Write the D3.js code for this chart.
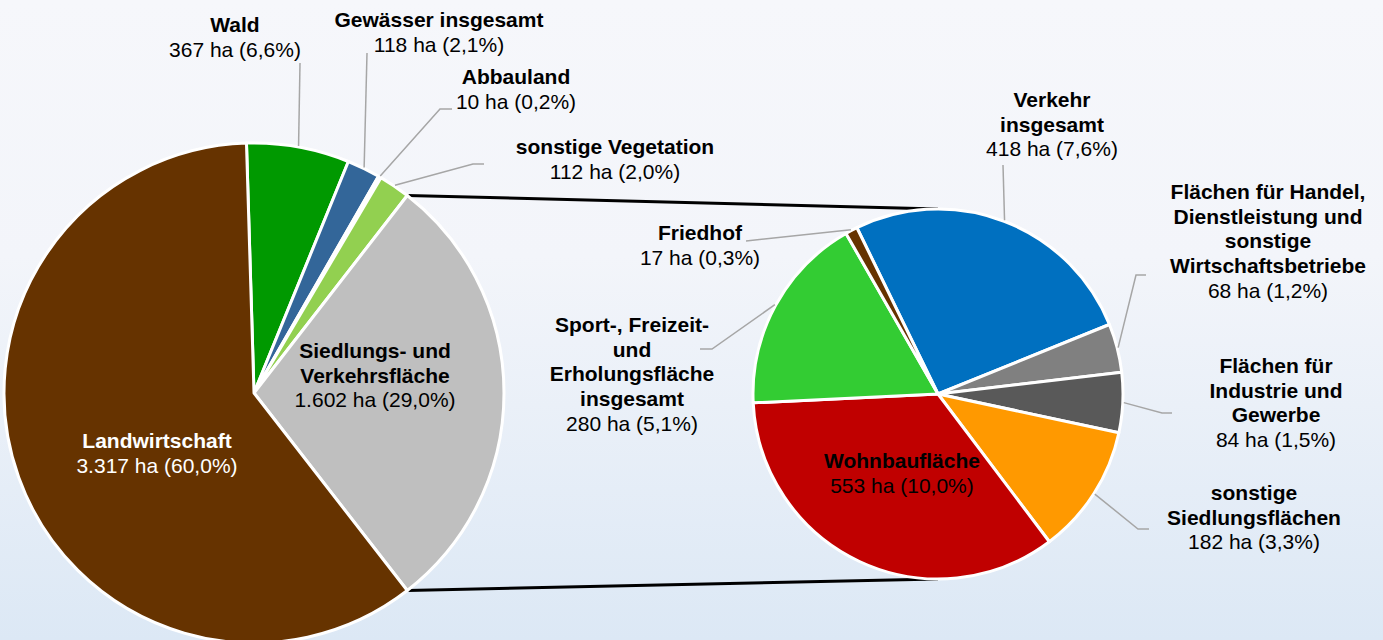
<!DOCTYPE html>
<html>
<head>
<meta charset="utf-8">
<script src="https://cdn.jsdelivr.net/npm/d3@7"></script>
<style>
  html, body { margin: 0; padding: 0; overflow: hidden; }
  svg { display: block; font-family: "Liberation Sans", Arial, sans-serif; }
</style>
</head>
<body>
<svg id="chart"></svg>
<script>
const width = 1383;
const height = 640;

// Hauptkreis: Bodenflächen (ha)
const mainNames = ['Wald', 'Gewässer insgesamt', 'Abbauland', 'sonstige Vegetation', 'Siedlungs- und Verkehrsfläche', 'Landwirtschaft'];
const mainValues = [367, 118, 10, 112, 1602, 3317];
const mainPct = ['6,6%', '2,1%', '0,2%', '2,0%', '29,0%', '60,0%'];
const mainColors = ['#009900', '#336699', '#d9d9d9', '#92d050', '#bfbfbf', '#663300'];

// Nebenkreis: Aufteilung Siedlungs- und Verkehrsfläche (ha)
const subNames = ['Verkehr insgesamt', 'Flächen für Handel, Dienstleistung und sonstige Wirtschaftsbetriebe', 'Flächen für Industrie und Gewerbe', 'sonstige Siedlungsflächen', 'Wohnbaufläche', 'Sport-, Freizeit- und Erholungsfläche insgesamt', 'Friedhof'];
const subValues = [418, 68, 84, 182, 553, 280, 17];
const subPct = ['7,6%', '1,2%', '1,5%', '3,3%', '10,0%', '5,1%', '0,3%'];
const subColors = ['#0070c0', '#808080', '#595959', '#ff9900', '#c00000', '#33cc33', '#663300'];

const fmt = v => d3.format(',')(v).replace(/,/g, '.');

// Beschriftungs-Layout: Zeilenumbrüche, Position, Knickpunkte der Führungslinie
const mainLayout = [
  { lines: ['Wald'], x: 235, y: 32, leader: [[300, 63]] },
  { lines: ['Gewässer insgesamt'], x: 439, y: 27, leader: [[367, 53]] },
  { lines: ['Abbauland'], x: 516, y: 84, leader: [[452, 109], [440, 109]] },
  { lines: ['sonstige Vegetation'], x: 615, y: 154, leader: [[484, 164], [473, 164]] },
  { lines: ['Siedlungs- und', 'Verkehrsfläche'], x: 375, y: 358, leader: null },
  { lines: ['Landwirtschaft'], x: 157, y: 448, leader: null, color: '#ffffff' }
];
const subLayout = [
  { lines: ['Verkehr', 'insgesamt'], x: 1052, y: 107, leader: [[1003, 165]] },
  { lines: ['Flächen für Handel,', 'Dienstleistung und', 'sonstige', 'Wirtschaftsbetriebe'], x: 1268, y: 199, leader: [[1146, 275], [1136, 275]] },
  { lines: ['Flächen für', 'Industrie und', 'Gewerbe'], x: 1276, y: 373, leader: [[1172, 413], [1162, 413]] },
  { lines: ['sonstige', 'Siedlungsflächen'], x: 1254, y: 500, leader: [[1149, 529], [1138, 529]] },
  { lines: ['Wohnbaufläche'], x: 902, y: 468, leader: null },
  { lines: ['Sport-, Freizeit-', 'und', 'Erholungsfläche', 'insgesamt'], x: 632, y: 332, leader: [[700, 349], [712, 349]] },
  { lines: ['Friedhof'], x: 700, y: 240, leader: [[746, 241]] }
];

const svg = d3.select('#chart')
  .attr('width', width)
  .attr('height', height);

// Hintergrund mit Verlauf
const grad = svg.append('defs').append('linearGradient')
  .attr('id', 'bg')
  .attr('x1', 0).attr('y1', 0).attr('x2', 0).attr('y2', 1);
grad.append('stop').attr('offset', '0%').attr('stop-color', '#f6f7fb');
grad.append('stop').attr('offset', '40%').attr('stop-color', '#f3f5fa');
grad.append('stop').attr('offset', '100%').attr('stop-color', '#dce8f5');
svg.append('rect')
  .attr('width', width)
  .attr('height', height)
  .attr('fill', 'url(#bg)');

const mainC = { x: 254, y: 393, r: 250 };
const subC = { x: 938, y: 394, r: 185 };

const mainTotal = d3.sum(mainValues);
const groupIdx = 4;
// Gruppe (Siedlungs- und Verkehrsfläche) mittig nach rechts
const groupSpan = mainValues[groupIdx] / mainTotal * 2 * Math.PI;
const groupStart = Math.PI / 2 - groupSpan / 2;
const before = d3.sum(mainValues.slice(0, groupIdx)) / mainTotal * 2 * Math.PI;
const mainStart = groupStart - before;

const mainPie = d3.pie().sort(null).value(d => d)
  .startAngle(mainStart).endAngle(mainStart + 2 * Math.PI);
const subStart = -26 * Math.PI / 180;
const subPie = d3.pie().sort(null).value(d => d)
  .startAngle(subStart).endAngle(subStart + 2 * Math.PI);

const mainArcs = mainPie(mainValues);
const subArcs = subPie(subValues);

const pt = (c, a, r) => [c.x + r * Math.sin(a), c.y - r * Math.cos(a)];

// Verbindungslinien
const g0 = mainArcs[groupIdx];
const lines = [
  [pt(mainC, g0.startAngle, mainC.r), [subC.x, subC.y - subC.r]],
  [pt(mainC, g0.endAngle, mainC.r), [subC.x, subC.y + subC.r]]
];
svg.selectAll('line.conn')
  .data(lines)
  .enter()
  .append('line')
  .attr('class', 'conn')
  .attr('x1', d => d[0][0]).attr('y1', d => d[0][1])
  .attr('x2', d => d[1][0]).attr('y2', d => d[1][1])
  .attr('stroke', '#000')
  .attr('stroke-width', 3);

function drawPie(c, arcs, colors) {
  const arc = d3.arc().innerRadius(0).outerRadius(c.r);
  svg.append('g')
    .attr('transform', `translate(${c.x}, ${c.y})`)
    .selectAll('path')
    .data(arcs)
    .enter()
    .append('path')
    .attr('d', arc)
    .attr('fill', (d, i) => colors[i])
    .attr('stroke', '#ffffff')
    .attr('stroke-width', 3)
    .attr('stroke-linejoin', 'round');
}
drawPie(mainC, mainArcs, mainColors);
drawPie(subC, subArcs, subColors);

function drawLabels(c, arcs, values, pct, layout) {
  const lh = 24.7;
  layout.forEach((l, i) => {
    const a = arcs[i];
    const mid = (a.startAngle + a.endAngle) / 2;
    if (l.leader) {
      const pts = l.leader.concat([pt(c, mid, c.r + 1)]);
      svg.append('polyline')
        .attr('points', pts.map(p => p.join(',')).join(' '))
        .attr('fill', 'none')
        .attr('stroke', '#a6a6a6')
        .attr('stroke-width', 1.5);
    }
    const t = svg.append('text')
      .attr('text-anchor', 'middle')
      .attr('font-size', 21)
      .attr('fill', l.color || '#000000');
    l.lines.forEach((s, k) => {
      t.append('tspan')
        .attr('x', l.x)
        .attr('y', l.y + k * lh)
        .attr('font-weight', 'bold')
        .text(s);
    });
    t.append('tspan')
      .attr('x', l.x)
      .attr('y', l.y + l.lines.length * lh)
      .text(`${fmt(values[i])} ha (${pct[i]})`);
  });
}
drawLabels(mainC, mainArcs, mainValues, mainPct, mainLayout);
drawLabels(subC, subArcs, subValues, subPct, subLayout);
</script>
</body>
</html>
